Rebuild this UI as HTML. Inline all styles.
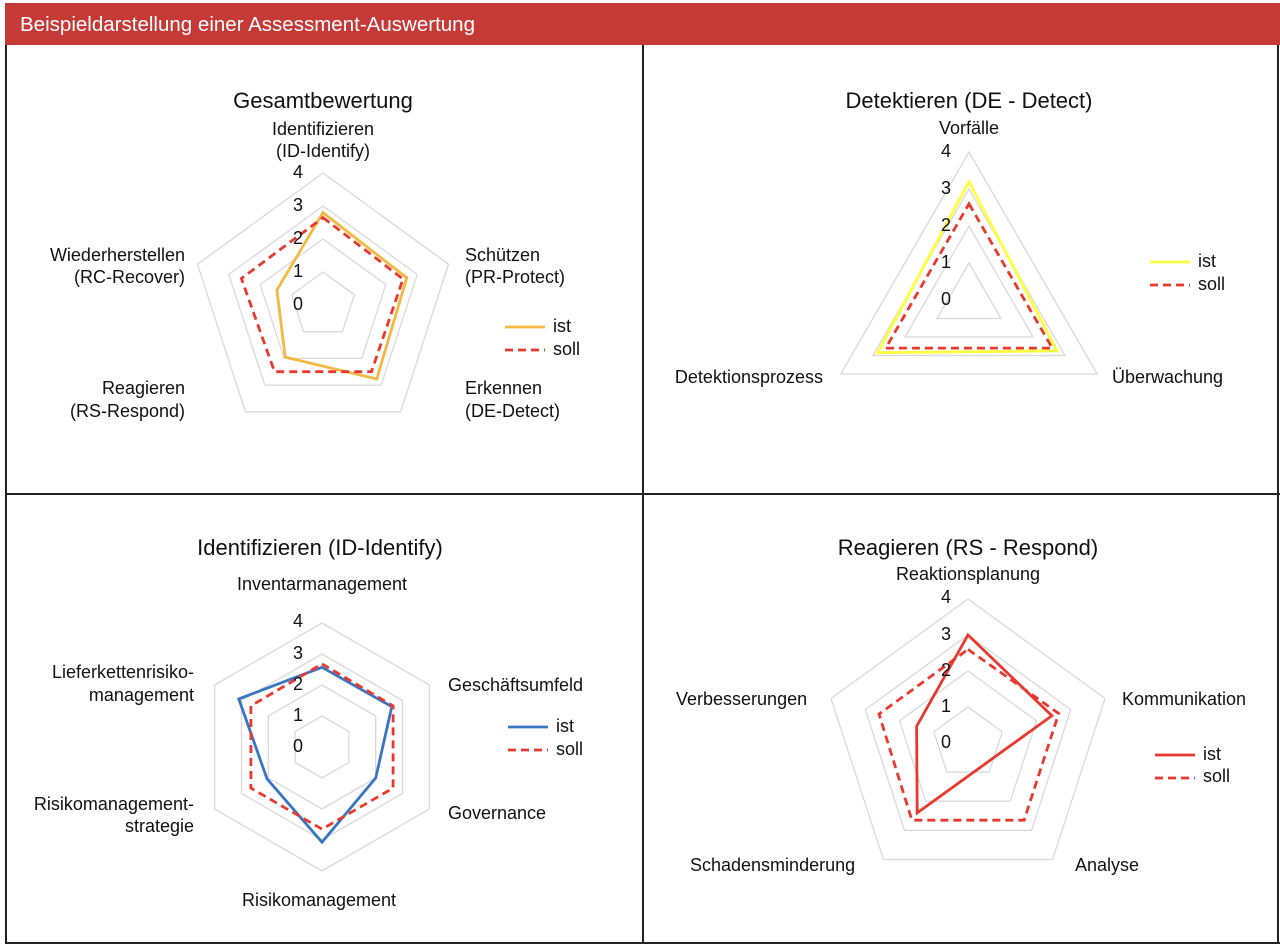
<!DOCTYPE html>
<html><head><meta charset="utf-8"><style>
html,body{margin:0;padding:0;background:#fff;}
svg{display:block;font-family:"Liberation Sans",Arial,sans-serif;}
</style></head><body>
<svg id="s" width="1280" height="948" viewBox="0 0 1280 948" xmlns="http://www.w3.org/2000/svg">
<rect x="0" y="0" width="1280" height="948" fill="#fff"/>
<rect x="5" y="3" width="1275" height="42" fill="#c53a36"/>
<text x="20" y="31" fill="#fff" font-size="20.5" textLength="455" lengthAdjust="spacingAndGlyphs">Beispieldarstellung einer Assessment-Auswertung</text>
<g stroke="#222" stroke-width="2" fill="none">
<line x1="6" y1="45" x2="6" y2="944"/>
<line x1="643" y1="45" x2="643" y2="944"/>
<line x1="6" y1="494" x2="1280" y2="494"/>
<line x1="6" y1="943" x2="1280" y2="943"/>
<line x1="1278" y1="45" x2="1278" y2="944"/>
</g>
<g id="charts"></g>
<g font-size="22" fill="#111" text-anchor="middle">
<text x="323" y="108">Gesamtbewertung</text>
<text x="969" y="108">Detektieren (DE - Detect)</text>
<text x="320" y="555">Identifizieren (ID-Identify)</text>
<text x="968" y="555">Reagieren (RS - Respond)</text>
</g>
<g font-size="18" fill="#111" dominant-baseline="middle">
<g text-anchor="middle">
<text x="323" y="130">Identifizieren</text><text x="323" y="152">(ID-Identify)</text>
<text x="969" y="129">Vorfälle</text>
<text x="322" y="585">Inventarmanagement</text>
<text x="319" y="901">Risikomanagement</text>
<text x="968" y="575">Reaktionsplanung</text>
</g>
<g text-anchor="end">
<text x="185" y="256">Wiederherstellen</text><text x="185" y="278">(RC-Recover)</text>
<text x="185" y="389">Reagieren</text><text x="185" y="412">(RS-Respond)</text>
<text x="823" y="378">Detektionsprozess</text>
<text x="194" y="805">Risikomanagement-</text><text x="194" y="827">strategie</text>
<text x="194" y="673">Lieferkettenrisiko-</text><text x="194" y="696">management</text>
</g>
<g text-anchor="start">
<text x="465" y="256">Schützen</text><text x="465" y="278">(PR-Protect)</text>
<text x="465" y="389">Erkennen</text><text x="465" y="412">(DE-Detect)</text>
<text x="1112" y="378">Überwachung</text>
<text x="448" y="686">Geschäftsumfeld</text>
<text x="448" y="814">Governance</text>
<text x="1122" y="700">Kommunikation</text>
<text x="1075" y="866">Analyse</text>
<text x="690" y="866">Schadensminderung</text>
<text x="676" y="700">Verbesserungen</text>
</g>
<g>
<text x="553" y="327">ist</text><text x="553" y="350">soll</text>
<text x="1198" y="262">ist</text><text x="1198" y="285">soll</text>
<text x="556" y="727">ist</text><text x="556" y="750">soll</text>
<text x="1203" y="755">ist</text><text x="1203" y="777">soll</text>
</g>
</g>
<g id="ticks" font-size="18" fill="#111" text-anchor="middle" dominant-baseline="middle">
<text x="298" y="305">0</text><text x="298" y="272">1</text><text x="298" y="239">2</text><text x="298" y="206">3</text><text x="298" y="173">4</text>
<text x="946" y="300">0</text><text x="946" y="263">1</text><text x="946" y="226">2</text><text x="946" y="189">3</text><text x="946" y="152">4</text>
<text x="298" y="747">0</text><text x="298" y="716">1</text><text x="298" y="685">2</text><text x="298" y="654">3</text><text x="298" y="622">4</text>
<text x="946" y="743">0</text><text x="946" y="707">1</text><text x="946" y="671">2</text><text x="946" y="635">3</text><text x="946" y="598">4</text>
</g>
</svg>
<script>
var g=document.getElementById('charts');var NS='http://www.w3.org/2000/svg';
function el(t,a){var e=document.createElementNS(NS,t);for(var k in a)e.setAttribute(k,a[k]);g.appendChild(e);return e;}
function pts(cx,cy,n,vals,step){var p=[];for(var i=0;i<n;i++){var a=-Math.PI/2+2*Math.PI*i/n;p.push((cx+vals[i]*step*Math.cos(a)).toFixed(1)+','+(cy+vals[i]*step*Math.sin(a)).toFixed(1));}return p.join(' ');}
function chart(cx,cy,n,step,ist,soll,col,lx,ly){
 for(var r=1;r<=4;r++){var v=[];for(var i=0;i<n;i++)v.push(r);el('polygon',{points:pts(cx,cy,n,v,step),fill:'none',stroke:'#d9d9d9','stroke-width':1.3});}
 el('polygon',{points:pts(cx,cy,n,ist,step),fill:'none',stroke:col,'stroke-width':2.8,'stroke-linejoin':'miter'});
 el('polygon',{points:pts(cx,cy,n,soll,step),fill:'none',stroke:'#e8392f','stroke-width':2.8,'stroke-dasharray':'8,5'});
 el('line',{x1:lx,y1:ly,x2:lx+40,y2:ly,stroke:col,'stroke-width':2.8});
 el('line',{x1:lx,y1:ly+23,x2:lx+40,y2:ly+23,stroke:'#e8392f','stroke-width':2.8,'stroke-dasharray':'8,5'});
}
chart(323,305,5,33,[2.8,2.67,2.77,1.95,1.47],[2.65,2.55,2.5,2.5,2.6],'#f4b942',505,327);
chart(969,300,3,37,[3.2,2.75,2.85],[2.6,2.6,2.6],'#ffff40',1150,262);
chart(322,747,6,31,[2.57,2.6,2.0,3.07,2.05,3.1],[2.68,2.65,2.65,2.65,2.65,2.65],'#3a75c4',508,727);
(function(){var cx=968,cy=743,s=36;
 for(var r=1;r<=4;r++){var v=[r,r,r,r,r];el('polygon',{points:pts(cx,cy,5,v,s),fill:'none',stroke:'#d9d9d9','stroke-width':1.3});}
 var P=pts(cx,cy,5,[3.0,2.45,0,2.4,1.5],s).split(' ');P.splice(2,1);
 el('polygon',{points:P.join(' '),fill:'none',stroke:'#e8392f','stroke-width':2.8});
 el('polygon',{points:pts(cx,cy,5,[2.6,2.65,2.65,2.65,2.6],s),fill:'none',stroke:'#e8392f','stroke-width':2.8,'stroke-dasharray':'8,5'});
 el('line',{x1:1155,y1:755,x2:1195,y2:755,stroke:'#e8392f','stroke-width':2.8});
 el('line',{x1:1155,y1:778,x2:1195,y2:778,stroke:'#e8392f','stroke-width':2.8,'stroke-dasharray':'8,5'});
})();
var t=document.getElementById('ticks');t.parentNode.appendChild(t);
</script>
</body></html>
